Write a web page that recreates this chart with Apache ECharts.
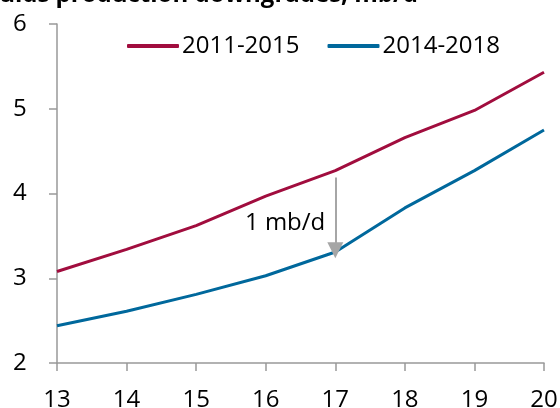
<!DOCTYPE html>
<html>
<head>
<meta charset="utf-8">
<script src="https://cdn.jsdelivr.net/npm/echarts@6/dist/echarts.min.js"></script>
<style>
  html, body { margin: 0; padding: 0; background: #ffffff; }
  #chart { width: 560px; height: 408px; }
</style>
</head>
<body>
<div id="chart"></div>
<script>
var years = ["13", "14", "15", "16", "17", "18", "19", "20"];
var forecast2011 = [3.08, 3.34, 3.62, 3.97, 4.27, 4.66, 4.98, 5.43];
var forecast2014 = [2.44, 2.61, 2.81, 3.03, 3.31, 3.83, 4.27, 4.75];
var yTicks = [2, 3, 4, 5, 6];

var red = "#a10d3e";
var blue = "#00689c";
var axisGrey = "#999999";
var font = "Open Sans";

var chart = echarts.init(document.getElementById("chart"));

var option = {
  animation: false,
  textStyle: { fontFamily: font },
  graphic: [
    {
      type: "text",
      right: 142,
      top: -17,
      style: {
        text: "Liquids production downgrades, mb/d",
        font: "bold 24px 'Open Sans'",
        fill: "#000000"
      }
    }
  ],
  legend: {
    left: 122,
    top: 29,
    itemWidth: 52,
    itemHeight: 4,
    itemGap: 28,
    icon: "roundRect",
    textStyle: { fontSize: 24, color: "#000000", fontFamily: font, padding: [0, 0, 0, -2] },
    data: ["2011-2015", "2014-2018"]
  },
  grid: { left: 57, right: 16, top: 24, bottom: 45, containLabel: false, outerBoundsMode: "none" },
  xAxis: {
    type: "category",
    data: years,
    boundaryGap: false,
    axisLine: { lineStyle: { color: axisGrey, width: 1.5 } },
    axisTick: { length: 8, lineStyle: { color: axisGrey, width: 1.5 } },
    axisLabel: { color: "#000000", fontSize: 24, margin: 25, fontFamily: font }
  },
  yAxis: {
    type: "value",
    min: yTicks[0],
    max: yTicks[yTicks.length - 1],
    interval: 1,
    splitLine: { show: false },
    axisLine: { show: true, lineStyle: { color: axisGrey, width: 1.5 } },
    axisTick: { show: true, length: 8, lineStyle: { color: axisGrey, width: 1.5 } },
    axisLabel: { color: "#000000", fontSize: 24, margin: 44, align: "left", fontFamily: font }
  },
  series: [
    {
      name: "2011-2015",
      type: "line",
      data: forecast2011,
      symbol: "none",
      lineStyle: { color: red, width: 3 },
      itemStyle: { color: red }
    },
    {
      name: "2014-2018",
      type: "line",
      data: forecast2014,
      symbol: "none",
      lineStyle: { color: blue, width: 3 },
      itemStyle: { color: blue },
      markLine: {
        silent: true,
        symbol: ["none", "triangle"],
        symbolSize: [16, 16],
        label: { show: false },
        lineStyle: { color: "#a6a6a6", width: 2, type: "solid" },
        data: [
          [
            { coord: ["17", forecast2011[4] - 0.08] },
            { coord: ["17", forecast2014[4] + 0.02] }
          ]
        ]
      },
      markPoint: {
        silent: true,
        symbol: "circle",
        symbolSize: 0,
        label: {
          show: true,
          formatter: "1 mb/d",
          position: "left",
          distance: 10,
          color: "#000000",
          fontSize: 24,
          fontFamily: font
        },
        data: [{ coord: ["17", 3.65] }]
      }
    }
  ]
};

chart.setOption(option);
</script>
</body>
</html>
